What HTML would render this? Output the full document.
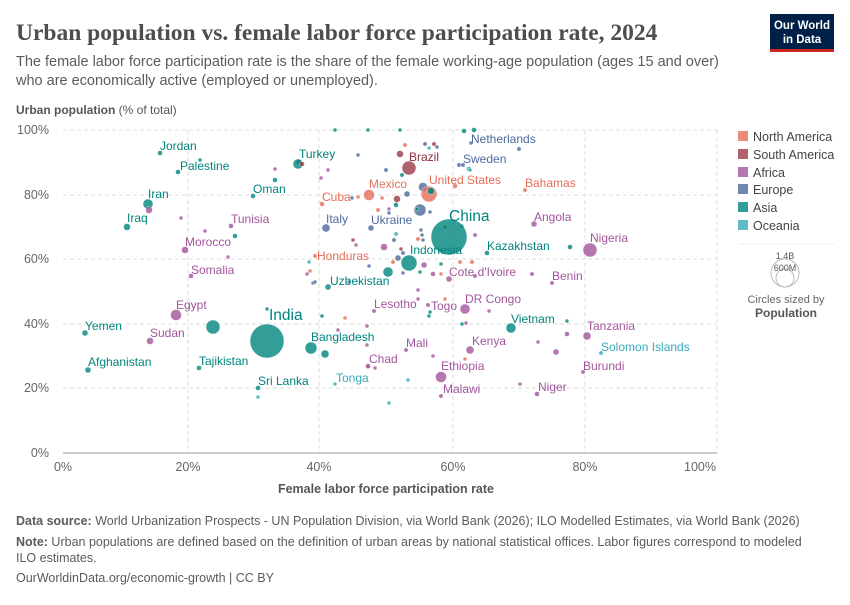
<!DOCTYPE html>
<html><head><meta charset="utf-8"><style>
body{margin:0;background:#fff;width:850px;height:600px;overflow:hidden;font-family:"Liberation Sans",sans-serif}
svg text{font-family:"Liberation Sans",sans-serif}
.na{fill:#e56e5a}.sa{fill:#9a3c47}.af{fill:#a2559c}.eu{fill:#4c6a9c}.as{fill:#00847e}.oc{fill:#38aaba}
circle{fill-opacity:.8;stroke:#fff;stroke-width:.4}
.tna{fill:#e56e5a}.tsa{fill:#883039}.taf{fill:#a2559c}.teu{fill:#4c6a9c}.tas{fill:#00847e}.toc{fill:#38aaba}
.lb{font-size:12px}
</style></head><body>
<svg width="850" height="600" xmlns="http://www.w3.org/2000/svg">
<text x="16" y="40" font-size="23.5" font-weight="bold" fill="#4d4d4d" style="font-family:'Liberation Serif',serif">Urban population vs. female labor force participation rate, 2024</text>
<text x="16" y="66" font-size="14.5" fill="#5b5b5b">The female labor force participation rate is the share of the female working-age population (ages 15 and over)</text>
<text x="16" y="85" font-size="14.5" fill="#5b5b5b">who are economically active (employed or unemployed).</text>
<rect x="770" y="14" width="64" height="36" fill="#002147"/><rect x="770" y="49" width="64" height="3" fill="#ce261e"/>
<text x="802" y="29" font-size="11.5" fill="#fff" text-anchor="middle" font-weight="bold">Our World</text>
<text x="802" y="43" font-size="11.5" fill="#fff" text-anchor="middle" font-weight="bold">in Data</text>
<text x="16" y="114" font-size="12" fill="#555"><tspan font-weight="bold">Urban population</tspan> (% of total)</text>
<g stroke="#ddd" stroke-dasharray="4,3" fill="none">
<line x1="63" y1="130" x2="717" y2="130"/><line x1="63" y1="195" x2="717" y2="195"/><line x1="63" y1="259" x2="717" y2="259"/><line x1="63" y1="324" x2="717" y2="324"/><line x1="63" y1="388" x2="717" y2="388"/>
<line x1="188" y1="130" x2="188" y2="453"/><line x1="319" y1="130" x2="319" y2="453"/><line x1="453" y1="130" x2="453" y2="453"/><line x1="585" y1="130" x2="585" y2="453"/><line x1="717" y1="130" x2="717" y2="453"/>
</g>
<line x1="63" y1="453" x2="717" y2="453" stroke="#999"/>
<g font-size="12.5" fill="#666" text-anchor="end">
<text x="49" y="134">100%</text><text x="49" y="199">80%</text><text x="49" y="263">60%</text><text x="49" y="328">40%</text><text x="49" y="392">20%</text><text x="49" y="457">0%</text></g>
<g font-size="12.5" fill="#666" text-anchor="middle">
<text x="63" y="471">0%</text><text x="188" y="471">20%</text><text x="319" y="471">40%</text><text x="453" y="471">60%</text><text x="585" y="471">80%</text><text x="700" y="471">100%</text></g>
<text x="386" y="493" font-size="12.5" font-weight="bold" fill="#555" text-anchor="middle">Female labor force participation rate</text>
<g>
<circle class="as" cx="335" cy="130" r="2"/><circle class="as" cx="368" cy="130" r="2"/><circle class="as" cx="400" cy="130" r="2"/><circle class="as" cx="464" cy="131" r="2.5"/><circle class="as" cx="474" cy="130" r="2.5"/>
<circle class="na" cx="405" cy="145" r="2.2"/><circle class="eu" cx="425" cy="144" r="2.2"/><circle class="sa" cx="434" cy="144" r="2.2"/><circle class="oc" cx="429" cy="148" r="2"/><circle class="eu" cx="437" cy="147" r="2"/>
<circle class="sa" cx="400" cy="154" r="3.5"/><circle class="eu" cx="386" cy="170" r="2.2"/><circle class="as" cx="402" cy="175" r="2.2"/><circle class="eu" cx="459" cy="165" r="2.2"/><circle class="eu" cx="463" cy="165" r="2.2"/><circle class="oc" cx="469" cy="169" r="2.5"/><circle class="eu" cx="519" cy="149" r="2.2"/><circle class="eu" cx="471" cy="143" r="2"/>
<circle class="eu" cx="423" cy="187" r="4.5"/><circle class="as" cx="430" cy="191" r="3.5"/><circle class="eu" cx="407" cy="194" r="3"/><circle class="sa" cx="397" cy="199" r="3.5"/><circle class="as" cx="396" cy="205" r="2.5"/><circle class="na" cx="378" cy="210" r="2.2"/><circle class="af" cx="389" cy="209" r="2"/><circle class="eu" cx="389" cy="213" r="2"/><circle class="na" cx="455" cy="186" r="2.5"/>
<circle class="eu" cx="420" cy="210" r="6"/><circle class="as" cx="417" cy="209" r="2"/><circle class="eu" cx="430" cy="212" r="2"/><circle class="na" cx="382" cy="198" r="2"/><circle class="eu" cx="352" cy="198" r="2"/><circle class="na" cx="358" cy="197" r="2"/>
<circle class="sa" cx="445" cy="227" r="2"/><circle class="eu" cx="421" cy="230" r="2"/><circle class="eu" cx="422" cy="235" r="2"/><circle class="eu" cx="423" cy="240" r="2"/><circle class="af" cx="475" cy="235" r="2.2"/><circle class="eu" cx="462" cy="226" r="2"/><circle class="oc" cx="396" cy="234" r="2.2"/><circle class="eu" cx="394" cy="240" r="2.2"/>
<circle class="sa" cx="353" cy="240" r="2"/><circle class="af" cx="356" cy="245" r="2"/><circle class="af" cx="384" cy="247" r="3.5"/><circle class="na" cx="418" cy="239" r="2.2"/><circle class="sa" cx="401" cy="249" r="2"/><circle class="eu" cx="403" cy="253" r="2.2"/><circle class="eu" cx="398" cy="258" r="3"/><circle class="na" cx="393" cy="262" r="2.2"/><circle class="eu" cx="369" cy="266" r="2"/><circle class="as" cx="388" cy="272" r="5"/><circle class="af" cx="424" cy="265" r="3"/><circle class="eu" cx="403" cy="273" r="2"/><circle class="af" cx="433" cy="274" r="2.5"/><circle class="na" cx="441" cy="274" r="2"/><circle class="as" cx="420" cy="272" r="2"/><circle class="na" cx="460" cy="262" r="2.2"/><circle class="na" cx="472" cy="262" r="2.2"/><circle class="as" cx="441" cy="264" r="2"/><circle class="af" cx="475" cy="276" r="2.2"/>
<circle class="eu" cx="349" cy="282" r="2"/><circle class="eu" cx="313" cy="283" r="2"/><circle class="af" cx="418" cy="290" r="2"/><circle class="na" cx="445" cy="299" r="2"/><circle class="af" cx="418" cy="299" r="2"/><circle class="na" cx="310" cy="271" r="2"/><circle class="af" cx="307" cy="274" r="2"/><circle class="oc" cx="309" cy="262" r="2"/><circle class="eu" cx="315" cy="282" r="2"/>
<circle class="as" cx="429" cy="316" r="2"/><circle class="as" cx="430" cy="312" r="2"/><circle class="af" cx="489" cy="311" r="2"/><circle class="as" cx="462" cy="324" r="2"/><circle class="af" cx="466" cy="323" r="2"/><circle class="as" cx="567" cy="321" r="2"/><circle class="as" cx="322" cy="316" r="2"/><circle class="na" cx="345" cy="318" r="2"/><circle class="af" cx="338" cy="330" r="2"/><circle class="af" cx="367" cy="326" r="2"/>
<circle class="af" cx="567" cy="334" r="2.5"/><circle class="af" cx="538" cy="342" r="2"/><circle class="af" cx="556" cy="352" r="3"/><circle class="af" cx="367" cy="345" r="2"/><circle class="af" cx="433" cy="356" r="2"/><circle class="na" cx="465" cy="359" r="2"/><circle class="af" cx="375" cy="368" r="2"/><circle class="sa" cx="368" cy="367" r="2"/><circle class="oc" cx="408" cy="380" r="2"/><circle class="af" cx="520" cy="384" r="2"/><circle class="oc" cx="389" cy="403" r="2"/><circle class="as" cx="299" cy="162" r="2.5"/><circle class="af" cx="275" cy="169" r="2"/><circle class="as" cx="275" cy="180" r="2.5"/><circle class="af" cx="181" cy="218" r="2"/><circle class="af" cx="205" cy="231" r="2"/><circle class="as" cx="235" cy="236" r="2.5"/><circle class="af" cx="228" cy="257" r="2"/><circle class="as" cx="267" cy="309" r="2"/><circle class="oc" cx="258" cy="397" r="2"/><circle class="as" cx="200" cy="160" r="2"/><circle class="af" cx="328" cy="170" r="2"/><circle class="af" cx="321" cy="178" r="2"/><circle class="eu" cx="358" cy="155" r="2"/>
</g>
<g>
<circle class="as" cx="160" cy="153" r="2.5"/><circle class="as" cx="178" cy="172" r="2.5"/><circle class="as" cx="148" cy="204" r="5"/><circle class="af" cx="149" cy="210" r="3.5"/><circle class="as" cx="127" cy="227" r="3.5"/><circle class="as" cx="253" cy="196" r="2.5"/><circle class="as" cx="298" cy="164" r="5"/><circle class="sa" cx="302" cy="164" r="2.5"/>
<circle class="af" cx="231" cy="226" r="2.5"/><circle class="af" cx="185" cy="250" r="3.5"/><circle class="af" cx="191" cy="276" r="2.5"/><circle class="af" cx="176" cy="315" r="5.5"/><circle class="as" cx="85" cy="333" r="3"/><circle class="af" cx="150" cy="341" r="3.5"/><circle class="as" cx="88" cy="370" r="3"/><circle class="as" cx="199" cy="368" r="2.5"/><circle class="as" cx="213" cy="327" r="7"/><circle class="as" cx="267" cy="341" r="17"/><circle class="as" cx="311" cy="348" r="6"/><circle class="as" cx="325" cy="354" r="4"/><circle class="as" cx="258" cy="388" r="2.5"/>
<circle class="sa" cx="409" cy="168" r="7"/><circle class="na" cx="369" cy="195" r="5.5"/><circle class="na" cx="429" cy="194" r="8"/><circle class="as" cx="431" cy="191" r="3.5"/><circle class="na" cx="322" cy="204" r="2.5"/><circle class="eu" cx="326" cy="228" r="4"/><circle class="eu" cx="371" cy="228" r="3"/>
<circle class="as" cx="449" cy="237" r="18"/><circle class="as" cx="409" cy="263" r="8"/><circle class="as" cx="487" cy="253" r="2.5"/><circle class="as" cx="570" cy="247" r="2.5"/><circle class="af" cx="590" cy="250" r="7"/><circle class="af" cx="534" cy="224" r="3"/><circle class="na" cx="525" cy="190" r="2.2"/><circle class="oc" cx="470" cy="170" r="2"/><circle class="na" cx="315" cy="256" r="2.2"/><circle class="as" cx="328" cy="287" r="3"/>
<circle class="af" cx="449" cy="279" r="3"/><circle class="af" cx="532" cy="274" r="2.2"/><circle class="af" cx="552" cy="283" r="2.2"/><circle class="af" cx="465" cy="309" r="5"/><circle class="af" cx="428" cy="305" r="2.2"/><circle class="af" cx="374" cy="311" r="2.2"/><circle class="as" cx="511" cy="328" r="5"/><circle class="af" cx="587" cy="336" r="4"/><circle class="af" cx="470" cy="350" r="4"/><circle class="af" cx="406" cy="350" r="2.2"/><circle class="af" cx="368" cy="366" r="2.5"/><circle class="af" cx="441" cy="377" r="5.5"/><circle class="oc" cx="335" cy="384" r="2"/><circle class="oc" cx="601" cy="353" r="2.2"/><circle class="af" cx="583" cy="372" r="2.2"/><circle class="af" cx="537" cy="394" r="2.5"/><circle class="af" cx="441" cy="396" r="2.2"/>
</g>
<g class="lb">
<text x="160" y="150" class="tas">Jordan</text><text x="180" y="170" class="tas">Palestine</text><text x="148" y="198" class="tas">Iran</text><text x="127" y="222" class="tas">Iraq</text><text x="253" y="193" class="tas">Oman</text><text x="299" y="158" class="tas">Turkey</text>
<text x="231" y="223" class="taf">Tunisia</text><text x="185" y="246" class="taf">Morocco</text><text x="191" y="274" class="taf">Somalia</text><text x="176" y="309" class="taf">Egypt</text><text x="85" y="330" class="tas">Yemen</text><text x="150" y="337" class="taf">Sudan</text><text x="88" y="366" class="tas">Afghanistan</text><text x="199" y="365" class="tas">Tajikistan</text>
<text x="269" y="320" class="tas" font-size="15.5">India</text><text x="311" y="341" class="tas">Bangladesh</text><text x="258" y="385" class="tas">Sri Lanka</text>
<text x="409" y="161" class="tsa">Brazil</text><text x="369" y="188" class="tna">Mexico</text><text x="429" y="184" class="tna">United States</text><text x="322" y="201" class="tna">Cuba</text><text x="326" y="223" class="teu">Italy</text><text x="371" y="224" class="teu">Ukraine</text>
<text x="449" y="221" class="tas" font-size="15.5">China</text><text x="410" y="254" class="tas">Indonesia</text><text x="487" y="250" class="tas">Kazakhstan</text><text x="590" y="242" class="taf">Nigeria</text><text x="534" y="221" class="taf">Angola</text><text x="525" y="187" class="tna">Bahamas</text><text x="471" y="143" class="teu">Netherlands</text><text x="463" y="163" class="teu">Sweden</text><text x="317" y="260" class="tna">Honduras</text><text x="330" y="285" class="tas">Uzbekistan</text>
<text x="449" y="276" class="taf">Cote d'Ivoire</text><text x="552" y="280" class="taf">Benin</text><text x="465" y="303" class="taf">DR Congo</text><text x="431" y="310" class="taf">Togo</text><text x="374" y="308" class="taf">Lesotho</text><text x="511" y="323" class="tas">Vietnam</text><text x="587" y="330" class="taf">Tanzania</text><text x="472" y="345" class="taf">Kenya</text><text x="406" y="347" class="taf">Mali</text><text x="369" y="363" class="taf">Chad</text><text x="441" y="370" class="taf">Ethiopia</text><text x="336" y="382" class="toc">Tonga</text><text x="601" y="351" class="toc">Solomon Islands</text><text x="583" y="370" class="taf">Burundi</text><text x="538" y="391" class="taf">Niger</text><text x="443" y="393" class="taf">Malawi</text>
</g>
<g font-size="12.5" fill="#444">
<rect x="738" y="131" width="10" height="10" fill="#e56e5a" opacity=".8"/><text x="753" y="141">North America</text>
<rect x="738" y="149" width="10" height="10" fill="#9a3c47" opacity=".8"/><text x="753" y="159">South America</text>
<rect x="738" y="167" width="10" height="10" fill="#a2559c" opacity=".8"/><text x="753" y="177">Africa</text>
<rect x="738" y="184" width="10" height="10" fill="#4c6a9c" opacity=".8"/><text x="753" y="194">Europe</text>
<rect x="738" y="202" width="10" height="10" fill="#00847e" opacity=".8"/><text x="753" y="212">Asia</text>
<rect x="738" y="220" width="10" height="10" fill="#38aaba" opacity=".8"/><text x="753" y="230">Oceania</text>
</g>
<line x1="738" y1="244" x2="834" y2="244" stroke="#eee"/>
<circle cx="785" cy="273" r="14" style="fill:none;stroke:#bbb;stroke-width:1"/><circle cx="785" cy="278" r="9" style="fill:none;stroke:#bbb;stroke-width:1"/>
<text x="785" y="259" font-size="9" fill="#555" text-anchor="middle">1.4B</text><text x="785" y="271" font-size="9" fill="#555" text-anchor="middle">600M</text>
<text x="786" y="303" font-size="11" fill="#666" text-anchor="middle">Circles sized by</text>
<text x="786" y="317" font-size="12" font-weight="bold" fill="#555" text-anchor="middle">Population</text>
<g font-size="12.5" fill="#5b5b5b">
<text x="16" y="525"><tspan font-weight="bold">Data source:</tspan> World Urbanization Prospects - UN Population Division, via World Bank (2026); ILO Modelled Estimates, via World Bank (2026)</text>
<text x="16" y="546"><tspan font-weight="bold">Note:</tspan> Urban populations are defined based on the definition of urban areas by national statistical offices. Labor figures correspond to modeled</text>
<text x="16" y="562">ILO estimates.</text>
<text x="16" y="582">OurWorldinData.org/economic-growth | CC BY</text>
</g>
</svg>
</body></html>
